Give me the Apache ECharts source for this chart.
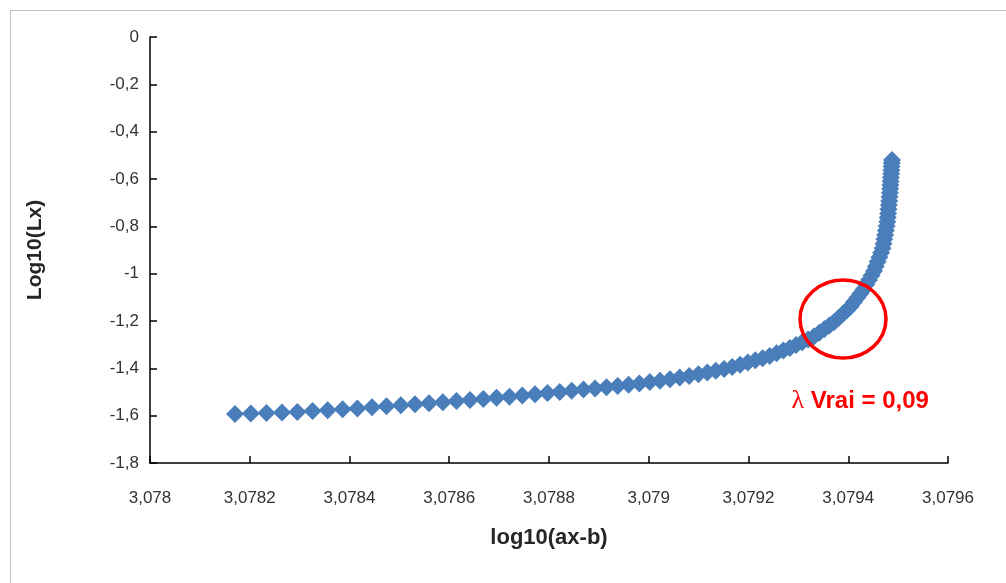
<!DOCTYPE html>
<html>
<head>
<meta charset="utf-8">
<script src="https://cdn.jsdelivr.net/npm/echarts@6/dist/echarts.min.js"></script>
<style>
html,body{margin:0;padding:0;background:#fff;}
#chart{width:1006px;height:583px;}
</style>
</head>
<body>
<div id="chart"></div>
<script>
// log10(ax-b)
const xValues = [
3.0781704,3.0782021,3.0782336,3.0782647,3.0782955,3.0783260,3.0783563,3.0783862,3.0784158,3.0784451,
3.0784742,3.0785029,3.0785313,3.0785594,3.0785871,3.0786145,3.0786416,3.0786683,3.0786947,3.0787208,
3.0787465,3.0787719,3.0787970,3.0788215,3.0788455,3.0788692,3.0788924,3.0789153,3.0789377,3.0789596,
3.0789811,3.0790021,3.0790226,3.0790426,3.0790621,3.0790811,3.0790996,3.0791174,3.0791344,3.0791511,
3.0791673,3.0791832,3.0791986,3.0792136,3.0792283,3.0792425,3.0792563,3.0792698,3.0792828,3.0792954,
3.0793077,3.0793195,3.0793309,3.0793418,3.0793522,3.0793622,3.0793718,3.0793807,3.0793891,3.0793971,
3.0794047,3.0794115,3.0794181,3.0794246,3.0794306,3.0794362,3.0794416,3.0794468,3.0794516,3.0794552,
3.0794589,3.0794625,3.0794659,3.0794689,3.0794707,3.0794723,3.0794739,3.0794755,3.0794771,3.0794783,
3.0794791,3.0794799,3.0794807,3.0794815,3.0794821,3.0794829,3.0794835,3.0794841,3.0794845,3.0794851,
3.0794855,3.0794861,3.0794865,3.0794869,3.0794873,3.0794877
];
// Log10(Lx)
const yValues = [
-1.5930,-1.5909,-1.5888,-1.5866,-1.5845,-1.5803,-1.5769,-1.5731,-1.5693,-1.5647,
-1.5600,-1.5558,-1.5516,-1.5474,-1.5431,-1.5385,-1.5338,-1.5292,-1.5245,-1.5199,
-1.5148,-1.5097,-1.5042,-1.4996,-1.4950,-1.4899,-1.4848,-1.4797,-1.4747,-1.4692,
-1.4637,-1.4578,-1.4527,-1.4459,-1.4387,-1.4320,-1.4252,-1.4181,-1.4105,-1.4024,
-1.3940,-1.3847,-1.3754,-1.3661,-1.3572,-1.3475,-1.3361,-1.3251,-1.3145,-1.3019,
-1.2896,-1.2778,-1.2655,-1.2495,-1.2342,-1.2195,-1.2042,-1.1869,-1.1704,-1.1544,
-1.1383,-1.1197,-1.1016,-1.0838,-1.0665,-1.0462,-1.0268,-1.0082,-0.9887,-0.9693,
-0.9499,-0.9304,-0.9114,-0.8928,-0.8738,-0.8548,-0.8362,-0.8176,-0.7990,-0.7809,
-0.7631,-0.7454,-0.7276,-0.7099,-0.6925,-0.6752,-0.6583,-0.6414,-0.6254,-0.6093,
-0.5937,-0.5780,-0.5628,-0.5476,-0.5328,-0.5197
];
const xTitle = 'log10(ax-b)';
const yTitle = 'Log10(Lx)';
const annotationText = 'Vrai = 0,09';
const annotationCenter = [3.0793895, -1.1916];
const annotationLabelPos = [3.0794240, -1.538];

const points = xValues.map((x, i) => [x, yValues[i]]);
const fmt = (v, d) => String(+v.toFixed(d)).replace('.', ',');
const FONT = '"Liberation Sans", Arial, sans-serif';

const chart = echarts.init(document.getElementById('chart'), null, {renderer: 'canvas'});
chart.setOption({
  animation: false,
  backgroundColor: '#ffffff',
  grid: {left: 150, right: 58, top: 37, bottom: 120},
  xAxis: {
    type: 'value', min: 3.078, max: 3.0796, interval: 0.0002,
    name: xTitle, nameLocation: 'middle', nameGap: 64,
    nameTextStyle: {fontFamily: FONT, fontWeight: 'bold', fontSize: 22, color: '#262626'},
    axisLine: {show: true, onZero: false, lineStyle: {color: '#000', width: 1.5}},
    axisTick: {show: true, inside: true, length: 7, lineStyle: {color: '#000', width: 1.5}},
    splitLine: {show: false},
    axisLabel: {margin: 27, fontFamily: FONT, fontSize: 17, color: '#333333',
      formatter: v => fmt(v, 4)}
  },
  yAxis: {
    type: 'value', min: -1.8, max: 0, interval: 0.2,
    name: yTitle, nameLocation: 'middle', nameGap: 104,
    nameTextStyle: {fontFamily: FONT, fontWeight: 'bold', fontSize: 21, color: '#262626'},
    axisLine: {show: true, onZero: false, lineStyle: {color: '#000', width: 1.5}},
    axisTick: {show: true, inside: true, length: 7, lineStyle: {color: '#000', width: 1.5}},
    splitLine: {show: false},
    axisLabel: {margin: 11, fontFamily: FONT, fontSize: 17, color: '#333333',
      formatter: v => fmt(v, 1)}
  },
  series: [{
    type: 'scatter',
    data: points,
    symbol: 'diamond',
    symbolSize: [18, 18],
    itemStyle: {color: '#4a7ebb', opacity: 1},
    z: 2
  }]
});

const c = chart.convertToPixel({gridIndex: 0}, annotationCenter);
const t = chart.convertToPixel({gridIndex: 0}, annotationLabelPos);
chart.setOption({
  graphic: [
    {type: 'rect', left: 8, top: 8, shape: {x: 0, y: 0, width: 1200, height: 800},
     style: {fill: 'none', stroke: '#bfbfbf', lineWidth: 1}, silent: true, z: 0},
    {type: 'ellipse', shape: {cx: c[0], cy: c[1], rx: 43, ry: 39},
     style: {fill: 'none', stroke: '#ff0000', lineWidth: 3.5}, z: 10},
    {type: 'text', x: t[0], y: t[1], z: 10,
     style: {text: '{l|λ}  {b|' + annotationText + '}', align: 'center', verticalAlign: 'middle',
       rich: {
         l: {fontFamily: '"Liberation Serif", serif', fontSize: 26, fill: '#ff0000', color: '#ff0000'},
         b: {fontFamily: FONT, fontSize: 24, fontWeight: 'bold', fill: '#ff0000', color: '#ff0000'}
       }}}
  ]
});
</script>
</body>
</html>
